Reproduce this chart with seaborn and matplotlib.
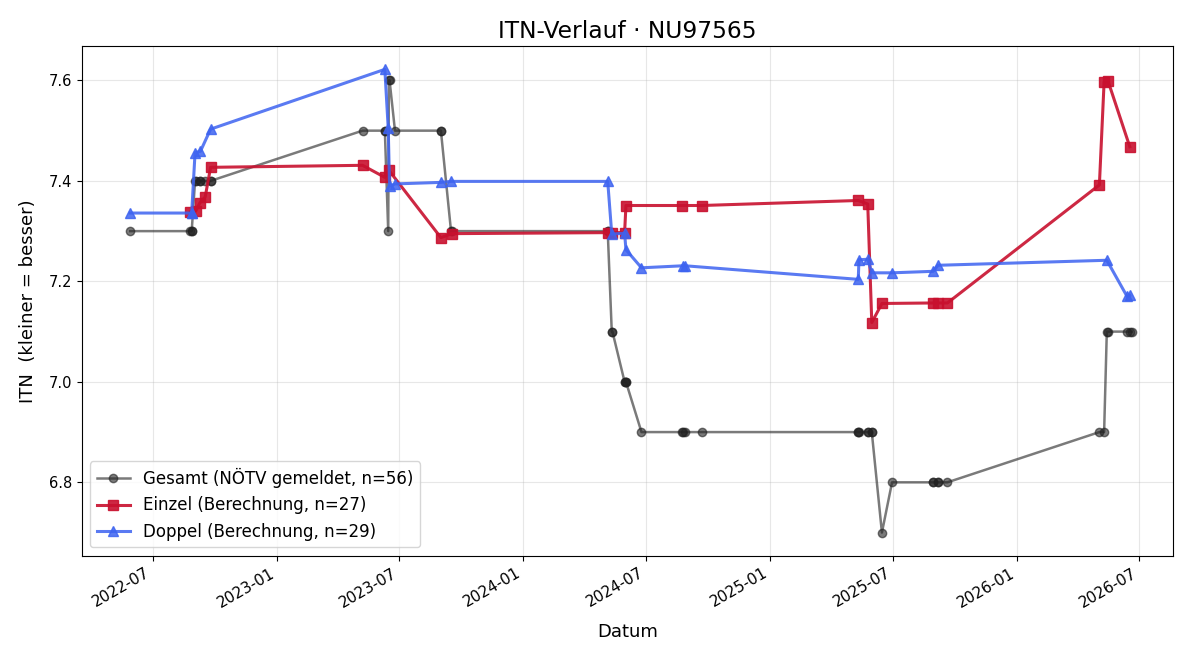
import pandas as pd
import seaborn as sns
import matplotlib.pyplot as plt
import matplotlib.dates as mdates

# ITN data
einzel_dates = [
    "2022-08-26", "2022-09-03", "2022-09-09", "2022-09-17", "2022-09-25",
    "2023-05-08", "2023-06-10", "2023-06-16",
    "2023-09-01", "2023-09-17",
    "2024-05-05", "2024-05-12", "2024-05-30", "2024-06-01",
    "2024-08-23", "2024-09-21",
    "2025-05-11", "2025-05-25", "2025-05-31", "2025-06-15",
    "2025-08-30", "2025-09-06", "2025-09-20",
    "2026-05-03", "2026-05-10", "2026-05-16", "2026-06-17",
]
einzel_itn = [
    7.338, 7.340, 7.356, 7.368, 7.427,
    7.431, 7.407, 7.421,
    7.287, 7.295,
    7.297, 7.297, 7.297, 7.351,
    7.351, 7.351,
    7.361, 7.354, 7.118, 7.156,
    7.157, 7.157, 7.157,
    7.392, 7.597, 7.598, 7.468,
]

doppel_dates = [
    "2022-05-29", "2022-08-28", "2022-08-28", "2022-09-02", "2022-09-10", "2022-09-25",
    "2023-06-10", "2023-06-15", "2023-06-17", "2023-06-25",
    "2023-09-01", "2023-09-16",
    "2024-05-05", "2024-05-11", "2024-05-30", "2024-06-01", "2024-06-24",
    "2024-08-24", "2024-08-28",
    "2025-05-11", "2025-05-12", "2025-05-25", "2025-05-31", "2025-06-30",
    "2025-08-30", "2025-09-06",
    "2026-05-14", "2026-06-13", "2026-06-17",
]
doppel_itn = [
    7.336, 7.336, 7.336, 7.456, 7.459, 7.503,
    7.622, 7.505, 7.389, 7.394,
    7.397, 7.399,
    7.399, 7.294, 7.296, 7.263, 7.227,
    7.231, 7.231,
    7.204, 7.243, 7.244, 7.217, 7.217,
    7.220, 7.232,
    7.242, 7.170, 7.172,
]

gesamt_dates = [
    "2022-05-29", "2022-08-26", "2022-08-28", "2022-08-28", "2022-09-02",
    "2022-09-03", "2022-09-09", "2022-09-10", "2022-09-17", "2022-09-25",
    "2022-09-25", "2023-05-08", "2023-06-10", "2023-06-10", "2023-06-15",
    "2023-06-16", "2023-06-17", "2023-06-25", "2023-09-01", "2023-09-01",
    "2023-09-16", "2023-09-17", "2024-05-05", "2024-05-05", "2024-05-11",
    "2024-05-12", "2024-05-30", "2024-05-30", "2024-06-01", "2024-06-01",
    "2024-06-24", "2024-08-23", "2024-08-24", "2024-08-28", "2024-09-21",
    "2025-05-11", "2025-05-11", "2025-05-12", "2025-05-25", "2025-05-25",
    "2025-05-31", "2025-05-31", "2025-06-15", "2025-06-30", "2025-08-30",
    "2025-08-30", "2025-09-06", "2025-09-06", "2025-09-20", "2026-05-03",
    "2026-05-10", "2026-05-14", "2026-05-16", "2026-06-13", "2026-06-17",
    "2026-06-20",
]
gesamt_itn = [
    7.3, 7.3, 7.3, 7.3, 7.4,
    7.4, 7.4, 7.4, 7.4, 7.4,
    7.4, 7.5, 7.5, 7.5, 7.3,
    7.6, 7.6, 7.5, 7.5, 7.5,
    7.3, 7.3, 7.3, 7.3, 7.1,
    7.1, 7.0, 7.0, 7.0, 7.0,
    6.9, 6.9, 6.9, 6.9, 6.9,
    6.9, 6.9, 6.9, 6.9, 6.9,
    6.9, 6.9, 6.7, 6.8, 6.8,
    6.8, 6.8, 6.8, 6.8, 6.9,
    6.9, 7.1, 7.1, 7.1, 7.1,
    7.1,
]

gesamt = pd.DataFrame({"datum": pd.to_datetime(gesamt_dates), "itn": gesamt_itn})
einzel = pd.DataFrame({"datum": pd.to_datetime(einzel_dates), "itn": einzel_itn})
doppel = pd.DataFrame({"datum": pd.to_datetime(doppel_dates), "itn": doppel_itn})

fig, ax = plt.subplots(figsize=(12, 6.6), dpi=100)

sns.lineplot(data=gesamt, x="datum", y="itn", ax=ax, estimator=None, sort=False,
             color="#222222", alpha=0.6, linewidth=1.8, marker="o", markersize=6,
             markeredgecolor="#222222", markeredgewidth=1,
             label="Gesamt (NÖTV gemeldet, n=56)")
sns.lineplot(data=einzel, x="datum", y="itn", ax=ax, estimator=None, sort=False,
             color="#c8102e", alpha=0.9, linewidth=2.2, marker="s", markersize=7,
             markeredgecolor="#c8102e", markeredgewidth=1,
             label="Einzel (Berechnung, n=27)")
sns.lineplot(data=doppel, x="datum", y="itn", ax=ax, estimator=None, sort=False,
             color="#3d63f0", alpha=0.85, linewidth=2.2, marker="^", markersize=7,
             markeredgecolor="#3d63f0", markeredgewidth=1,
             label="Doppel (Berechnung, n=29)")

ax.set_title("ITN-Verlauf · NU97565", fontsize=16.8)
ax.set_xlabel("Datum", fontsize=13, labelpad=9)
ax.set_ylabel("ITN  (kleiner = besser)", fontsize=13, labelpad=8)
ax.grid(True, alpha=0.3)
ax.set_xlim(pd.Timestamp("2022-03-18"), pd.Timestamp("2026-08-20"))
ax.xaxis.set_major_locator(mdates.MonthLocator(bymonth=[1, 7]))
ax.xaxis.set_major_formatter(mdates.DateFormatter("%Y-%m"))
ax.tick_params(axis="x", labelsize=11)
ax.tick_params(axis="y", labelsize=10.5)
ax.legend(loc="lower left", fontsize=12)
fig.autofmt_xdate()

fig.subplots_adjust(left=0.068, right=0.9775, top=0.930, bottom=0.158)
fig.savefig("out.png")
